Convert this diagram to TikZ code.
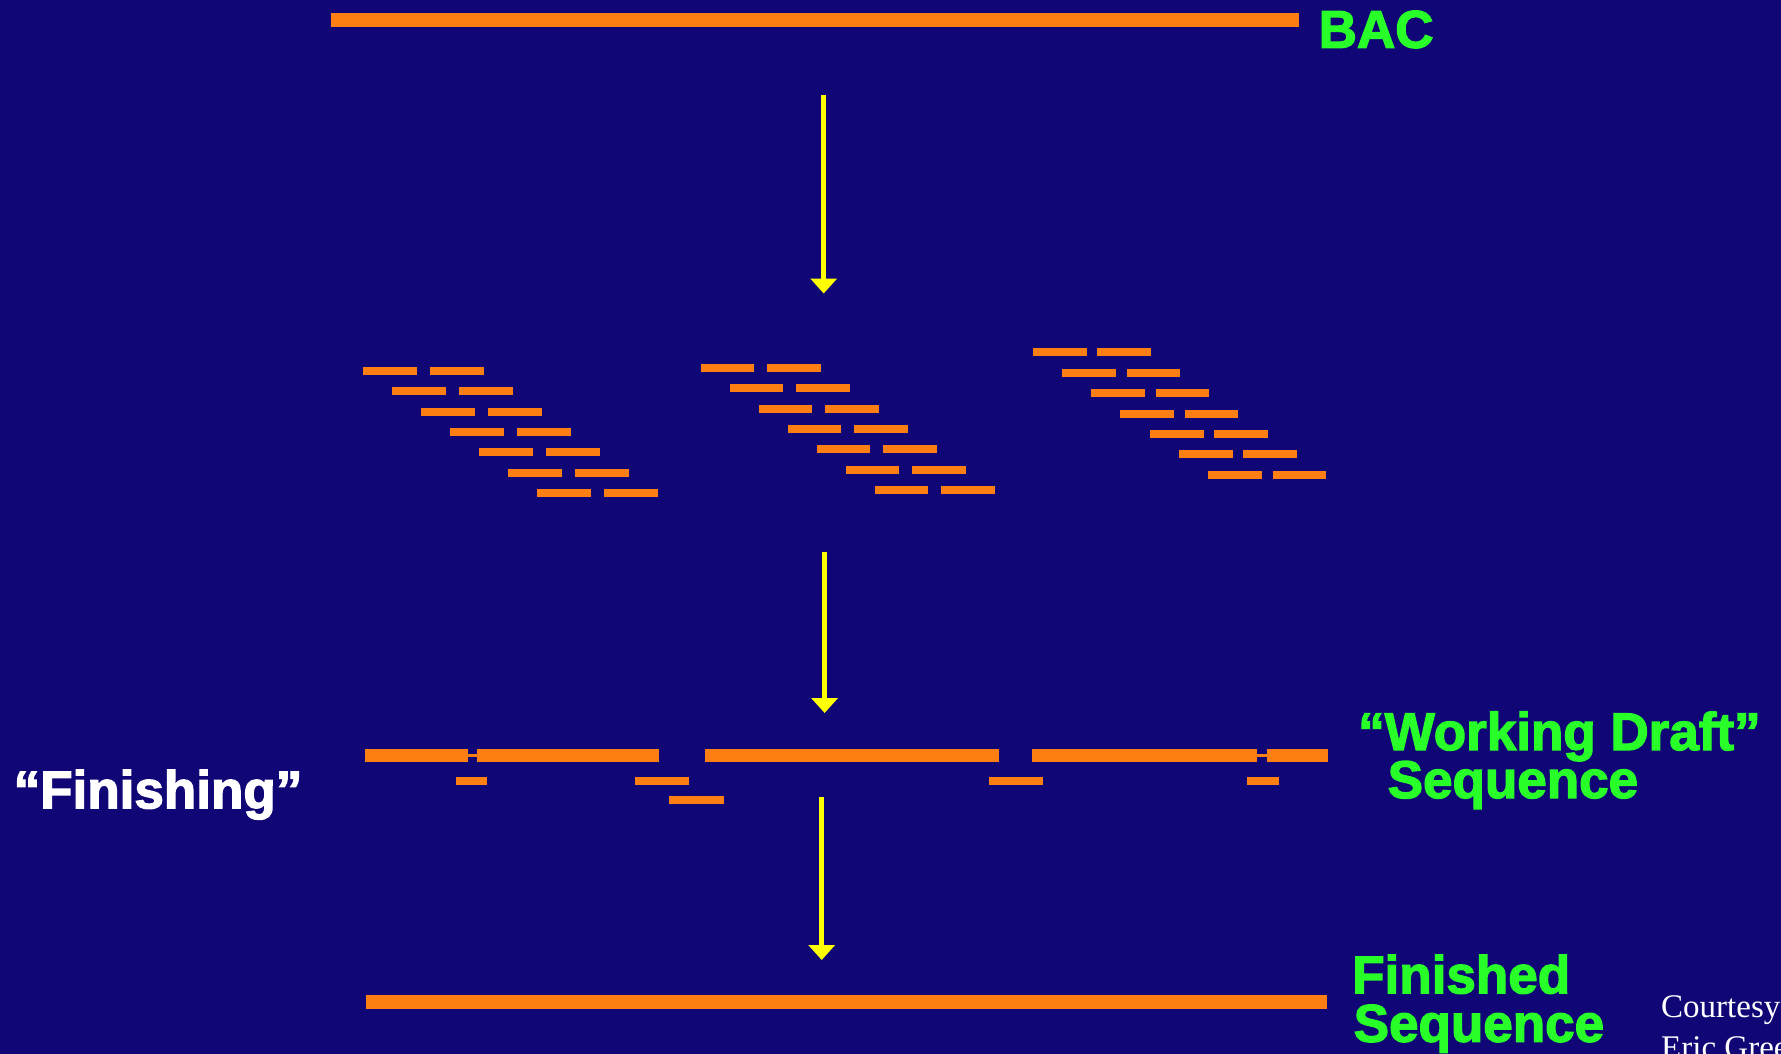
\documentclass[tikz,border=0pt]{standalone}
\usepackage{fontspec}
\setmainfont{Liberation Sans}[BoldFeatures={FakeBold=2.5}]
\newfontfamily\serifcourtesy{Liberation Serif}
\usetikzlibrary{arrows.meta}
\definecolor{bgnavy}{RGB}{16,6,118}
\definecolor{segorange}{RGB}{253,127,20}
\definecolor{labgreen}{RGB}{40,255,40}
\definecolor{arryellow}{RGB}{255,255,0}
\tikzset{
  seg/.style={fill=segorange},
  flow/.style={draw=arryellow, line width=4.7pt, -{Triangle[width=26pt,length=15pt]}, arryellow},
  biglab/.style={inner sep=0pt, anchor=base west, text=labgreen, font=\fontsize{53}{52}\selectfont\bfseries},
  whitelab/.style={inner sep=0pt, anchor=base west, text=white, font=\fontsize{53}{52}\selectfont\bfseries},
  courtlab/.style={inner sep=0pt, anchor=base west, text=white, font=\fontsize{33}{33}\selectfont\serifcourtesy}
}
\begin{document}
\begin{tikzpicture}[x=1pt,y=-1pt]
\fill[bgnavy] (0,0) rectangle (1781,1054);
\useasboundingbox (0,0) rectangle (1781,1054);
\begin{scope}
\clip (0,0) rectangle (1781,1054);
% BAC bar
\fill[seg] (331.3,13.3) rectangle (1299,26.7);
% fragment groups
\foreach \i in {0,...,6} {
  \fill[seg] ({363.3+29*\i},{367+20.33*\i}) rectangle ++(53.4,8);
  \fill[seg] ({430.3+29*\i},{367+20.33*\i}) rectangle ++(53.6,8);
  \fill[seg] ({700.7+29*\i},{363.7+20.4*\i}) rectangle ++(53.6,8);
  \fill[seg] ({766.7+29*\i},{363.7+20.4*\i}) rectangle ++(54,8);
  \fill[seg] ({1032.7+29.2*\i},{348.3+20.4*\i}) rectangle ++(54,8);
  \fill[seg] ({1097.3+29.2*\i},{348.3+20.4*\i}) rectangle ++(53.4,8);
}
% working draft contigs
\fill[seg] (365,749) rectangle (468.3,762.3);
\fill[seg] (468,754.4) rectangle (477.5,757);
\fill[seg] (477.3,749) rectangle (659,762.3);
\fill[seg] (705,749) rectangle (999,762.3);
\fill[seg] (1032.3,749) rectangle (1257.3,762.3);
\fill[seg] (1257,754.4) rectangle (1267,757);
\fill[seg] (1266.7,749) rectangle (1328.3,762.3);
% finishing reads
\fill[seg] (455.7,777) rectangle (487.3,785);
\fill[seg] (635,777) rectangle (688.7,785);
\fill[seg] (669.3,795.5) rectangle (724,803.5);
\fill[seg] (989,777) rectangle (1042.7,785);
\fill[seg] (1246.7,777) rectangle (1279,785);
% finished bar
\fill[seg] (365.7,995.2) rectangle (1326.6,1008.5);
% arrows
\coordinate (a1s) at (823.7,95);
\coordinate (a1e) at (823.7,293.5);
\coordinate (a2s) at (824.6,552);
\coordinate (a2e) at (824.6,713);
\coordinate (a3s) at (821.7,797);
\coordinate (a3e) at (821.7,960);
\draw[flow] (a1s) -- (a1e);
\draw[flow] (a2s) -- (a2e);
\draw[flow] (a3s) -- (a3e);
% labels
\node[biglab] (bac) at (1318.5,47.7) {BAC};
\node[biglab] (wd1) at (1358,750) {\textquotedblleft Working Draft\textquotedblright};
\node[biglab] (wd2) at (1387.5,798) {Sequence};
\node[biglab] (fs1) at (1352,993.3) {Finished};
\node[biglab] (fs2) at (1353.5,1041.7) {Sequence};
\node[whitelab] (fin) at (13.5,808.3) {\textquotedblleft Finishing\textquotedblright};
\node[courtlab] (ct1) at (1661,1017.3) {Courtesy of};
\node[courtlab] (ct2) at (1661,1058) {Eric Green};
\end{scope}
\end{tikzpicture}
\end{document}
